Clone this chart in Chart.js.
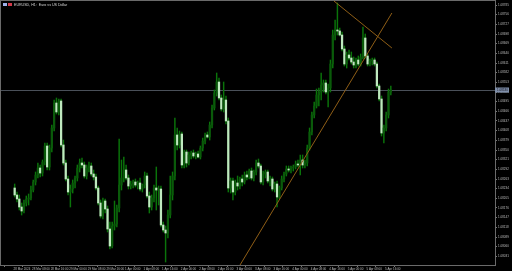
<!DOCTYPE html>
<html>
<head>
<meta charset="utf-8">
<script src="https://cdn.jsdelivr.net/npm/chart.js@4"></script>
<style>
html, body { margin: 0; padding: 0; background: #000; overflow: hidden; }
canvas { display: block; }
</style>
</head>
<body>
<canvas id="chart" width="512" height="271"></canvas>
<script>
// --- EURUSD H1 candles ---
const symbolTitle = 'EURUSD, H1:  Euro vs US Dollar';

const timeLabels = ['28 Mar 2024', '28 Mar 08:00', '28 Mar 16:00', '29 Mar 00:00', '29 Mar 08:00', '29 Mar 16:00',
    '1 Apr 00:00', '1 Apr 08:00', '1 Apr 16:00', '2 Apr 00:00', '2 Apr 08:00', '2 Apr 16:00',
    '3 Apr 00:00', '3 Apr 08:00', '3 Apr 16:00', '4 Apr 00:00', '4 Apr 08:00', '4 Apr 16:00',
    '5 Apr 00:00', '5 Apr 08:00', '5 Apr 16:00'];

const opens = [
    1.08236,1.08215,1.08203,1.08179,1.08167,1.08191,1.08203,1.08206,1.08230,1.08254,
    1.08275,1.08296,1.08281,1.08314,1.08362,1.08299,1.08356,1.08416,1.08491,1.08464,
    1.08497,1.08365,1.08311,1.08263,1.08224,1.08233,1.08251,1.08266,1.08296,1.08311,
    1.08305,1.08272,1.08296,1.08302,1.08278,1.08269,1.08236,1.08191,1.08152,1.08197,
    1.08173,1.08113,1.08062,1.08122,1.08128,1.08176,1.08245,1.08266,1.08290,1.08266,
    1.08242,1.08248,1.08254,1.08245,1.08251,1.08233,1.08245,1.08272,1.08212,1.08179,
    1.08206,1.08236,1.08230,1.08233,1.08125,1.08110,1.08101,1.08155,1.08215,1.08272,
    1.08395,1.08365,1.08398,1.08305,1.08344,1.08311,1.08335,1.08341,1.08332,1.08338,
    1.08329,1.08356,1.08377,1.08395,1.08389,1.08425,1.08476,1.08521,1.08554,1.08506,
    1.08473,1.08500,1.08437,1.08236,1.08257,1.08224,1.08251,1.08242,1.08263,1.08254,
    1.08275,1.08269,1.08287,1.08266,1.08284,1.08311,1.08302,1.08254,1.08278,1.08284,
    1.08257,1.08263,1.08233,1.08248,1.08209,1.08236,1.08263,1.08278,1.08293,1.08290,
    1.08296,1.08299,1.08308,1.08305,1.08320,1.08305,1.08311,1.08356,1.08404,1.08455,
    1.08482,1.08515,1.08524,1.08545,1.08551,1.08524,1.08536,1.08608,1.08695,1.08710,
    1.08707,1.08695,1.08653,1.08608,1.08635,1.08626,1.08614,1.08605,1.08620,1.08608,
    1.08629,1.08686,1.08632,1.08608,1.08617,1.08620,1.08608,1.08542,1.08503,1.08401,
    1.08416,1.08455,1.08524];

const highs = [
    1.08248,1.08224,1.08215,1.08191,1.08200,1.08212,1.08218,1.08242,1.08260,1.08284,
    1.08311,1.08305,1.08320,1.08371,1.08371,1.08365,1.08425,1.08500,1.08506,1.08503,
    1.08503,1.08380,1.08320,1.08272,1.08245,1.08260,1.08272,1.08305,1.08323,1.08326,
    1.08314,1.08305,1.08314,1.08311,1.08290,1.08278,1.08242,1.08200,1.08206,1.08203,
    1.08182,1.08134,1.08134,1.08197,1.08185,1.08383,1.08320,1.08329,1.08305,1.08275,
    1.08257,1.08260,1.08263,1.08257,1.08266,1.08248,1.08284,1.08281,1.08224,1.08215,
    1.08245,1.08299,1.08242,1.08242,1.08134,1.08122,1.08170,1.08272,1.08284,1.08446,
    1.08416,1.08407,1.08404,1.08350,1.08350,1.08344,1.08347,1.08350,1.08344,1.08347,
    1.08362,1.08386,1.08401,1.08404,1.08434,1.08485,1.08530,1.08581,1.08566,1.08515,
    1.08554,1.08512,1.08446,1.08266,1.08266,1.08260,1.08272,1.08269,1.08275,1.08284,
    1.08287,1.08293,1.08296,1.08290,1.08320,1.08323,1.08308,1.08287,1.08290,1.08290,
    1.08272,1.08269,1.08254,1.08257,1.08242,1.08272,1.08284,1.08302,1.08302,1.08302,
    1.08305,1.08317,1.08320,1.08335,1.08335,1.08320,1.08365,1.08416,1.08464,1.08494,
    1.08533,1.08536,1.08581,1.08560,1.08560,1.08548,1.08620,1.08710,1.08740,1.08791,
    1.08716,1.08704,1.08662,1.08644,1.08650,1.08644,1.08629,1.08626,1.08632,1.08638,
    1.08719,1.08698,1.08638,1.08623,1.08626,1.08626,1.08614,1.08548,1.08512,1.08425,
    1.08464,1.08533,1.08542];

const lows = [
    1.08209,1.08194,1.08170,1.08155,1.08161,1.08182,1.08185,1.08200,1.08224,1.08245,
    1.08266,1.08269,1.08272,1.08305,1.08290,1.08290,1.08344,1.08407,1.08458,1.08455,
    1.08359,1.08305,1.08257,1.08215,1.08179,1.08221,1.08236,1.08257,1.08284,1.08296,
    1.08266,1.08263,1.08284,1.08272,1.08260,1.08230,1.08185,1.08146,1.08143,1.08161,
    1.08104,1.08053,1.08056,1.08110,1.08119,1.08164,1.08230,1.08254,1.08260,1.08233,
    1.08233,1.08236,1.08239,1.08233,1.08227,1.08224,1.08236,1.08206,1.08161,1.08170,
    1.08194,1.08170,1.08185,1.08119,1.08104,1.08014,1.08086,1.08146,1.08200,1.08260,
    1.08350,1.08356,1.08296,1.08296,1.08299,1.08305,1.08323,1.08326,1.08323,1.08326,
    1.08323,1.08347,1.08368,1.08386,1.08380,1.08416,1.08470,1.08512,1.08500,1.08467,
    1.08464,1.08428,1.08224,1.08221,1.08200,1.08215,1.08230,1.08233,1.08242,1.08248,
    1.08260,1.08263,1.08260,1.08257,1.08275,1.08296,1.08248,1.08245,1.08266,1.08251,
    1.08242,1.08227,1.08224,1.08179,1.08203,1.08230,1.08254,1.08272,1.08284,1.08281,
    1.08287,1.08293,1.08299,1.08275,1.08296,1.08296,1.08302,1.08350,1.08395,1.08446,
    1.08476,1.08482,1.08500,1.08524,1.08518,1.08479,1.08524,1.08596,1.08680,1.08695,
    1.08692,1.08647,1.08602,1.08596,1.08620,1.08608,1.08596,1.08596,1.08602,1.08602,
    1.08623,1.08626,1.08602,1.08602,1.08605,1.08602,1.08536,1.08497,1.08392,1.08371,
    1.08407,1.08446,1.08515];

const closes = [
    1.08215,1.08203,1.08179,1.08167,1.08191,1.08203,1.08206,1.08230,1.08254,1.08275,
    1.08296,1.08281,1.08314,1.08362,1.08299,1.08356,1.08416,1.08491,1.08464,1.08497,
    1.08365,1.08311,1.08263,1.08224,1.08233,1.08251,1.08266,1.08296,1.08311,1.08305,
    1.08272,1.08296,1.08302,1.08278,1.08269,1.08236,1.08191,1.08152,1.08197,1.08173,
    1.08113,1.08062,1.08122,1.08128,1.08176,1.08245,1.08266,1.08290,1.08266,1.08242,
    1.08248,1.08254,1.08245,1.08251,1.08233,1.08245,1.08272,1.08212,1.08179,1.08206,
    1.08236,1.08230,1.08233,1.08125,1.08110,1.08101,1.08155,1.08215,1.08272,1.08395,
    1.08365,1.08398,1.08305,1.08344,1.08311,1.08335,1.08341,1.08332,1.08338,1.08329,
    1.08356,1.08377,1.08395,1.08389,1.08425,1.08476,1.08521,1.08554,1.08506,1.08473,
    1.08500,1.08437,1.08236,1.08257,1.08224,1.08251,1.08242,1.08263,1.08254,1.08275,
    1.08269,1.08287,1.08266,1.08284,1.08311,1.08302,1.08254,1.08278,1.08284,1.08257,
    1.08263,1.08233,1.08248,1.08209,1.08236,1.08263,1.08278,1.08293,1.08290,1.08296,
    1.08299,1.08308,1.08305,1.08320,1.08305,1.08311,1.08356,1.08404,1.08455,1.08482,
    1.08515,1.08524,1.08545,1.08551,1.08524,1.08536,1.08608,1.08695,1.08710,1.08707,
    1.08695,1.08653,1.08608,1.08635,1.08626,1.08614,1.08605,1.08620,1.08608,1.08629,
    1.08686,1.08632,1.08608,1.08617,1.08620,1.08608,1.08542,1.08503,1.08401,1.08416,
    1.08455,1.08524,1.08530];

const priceTicks = [1.08785, 1.08756, 1.08727, 1.08698, 1.08669, 1.08640, 1.08611, 1.08582, 1.08553,
    1.08524, 1.08495, 1.08466, 1.08437, 1.08408, 1.08379, 1.08350, 1.08321, 1.08292, 1.08263,
    1.08234, 1.08205, 1.08176, 1.08147, 1.08118, 1.08089, 1.08060, 1.08031];

// trendlines drawn on the chart (bar index, price)
const trendUp = [{ x: 96.8, y: 1.08002 }, { x: 162.46, y: 1.08761 }];
const trendDown = [{ x: 137.5, y: 1.08797 }, { x: 162.46, y: 1.08656 }];

const BARS_PER_LABEL = 8;
const FONT = '"Liberation Sans", Arial, sans-serif';

const mt4Plugin = {
    id: 'mt4',
    beforeDatasetsDraw(chart) {
        const { ctx, chartArea: a, scales: { y } } = chart;
        const yb = Math.round(y.getPixelForValue(closes[closes.length - 1])) + 0.5;
        ctx.save();
        ctx.strokeStyle = '#4a5059';
        ctx.lineWidth = 1;
        ctx.beginPath();
        ctx.moveTo(a.left, yb);
        ctx.lineTo(a.right, yb);
        ctx.stroke();
        ctx.restore();
    },
    afterDraw(chart) {
        const { ctx, chartArea: a, scales: { y } } = chart;
        ctx.save();
        // frame
        ctx.strokeStyle = '#6a6a6a';
        ctx.lineWidth = 1;
        ctx.strokeRect(a.left - 0.5, a.top - 0.5, a.right - a.left + 1, a.bottom - a.top + 1);

        // bid price box
        const last = closes[closes.length - 1];
        const yb = y.getPixelForValue(last);
        ctx.fillStyle = '#7f8fab';
        ctx.fillRect(a.right, yb - 2.5, 14, 5);
        ctx.fillStyle = '#101018';
        ctx.font = '3px ' + FONT;
        ctx.textBaseline = 'middle';
        ctx.fillText(last.toFixed(5), a.right + 2, yb);

        // title
        ctx.fillStyle = '#9db0e8';
        ctx.fillRect(3, 3, 4, 3);
        ctx.fillStyle = '#d23a4a';
        ctx.fillRect(8, 3, 4, 3);
        ctx.fillStyle = '#d8d8d8';
        ctx.font = '3.6px ' + FONT;
        ctx.fillText(symbolTitle, 14, 4.8);
        ctx.restore();
    }
};

function initChart() {
    const ctx = document.getElementById('chart').getContext('2d');
    const isBull = closes.map((c, i) => c >= opens[i]);

    new Chart(ctx, {
        data: {
            datasets: [
                { type: 'line', data: trendUp, borderColor: '#8f5e16', borderWidth: 1, pointRadius: 0, order: -1 },
                { type: 'line', data: trendDown, borderColor: '#8f5e16', borderWidth: 1, pointRadius: 0, order: -1 },
                {
                    type: 'bar',
                    data: opens.map((o, i) => ({ x: i, y: [o, closes[i]] })),
                    backgroundColor: isBull.map(b => b ? '#0a5a0a' : '#bfe9bf'),
                    barThickness: 1.6,
                    grouped: false,
                    order: 0
                },
                {
                    type: 'bar',
                    data: lows.map((l, i) => ({ x: i, y: [l, highs[i]] })),
                    backgroundColor: '#0a740a',
                    barThickness: 0.8,
                    grouped: false,
                    order: 1
                }
            ]
        },
        options: {
            responsive: false,
            animation: false,
            layout: { padding: { left: 1, top: 1, right: 0, bottom: 0 } },
            plugins: { legend: { display: false }, tooltip: { enabled: false } },
            scales: {
                x: {
                    type: 'linear',
                    min: -0.82,
                    max: 201.8,
                    grid: { drawOnChartArea: false, tickLength: 2, color: '#777' },
                    border: { display: true, color: '#777' },
                    afterBuildTicks: s => { s.ticks = timeLabels.map((_, k) => ({ value: k * BARS_PER_LABEL - 0.5 })); },
                    afterFit: s => { s.height = 6; s.paddingLeft = 0; s.paddingRight = 0; },
                    ticks: {
                        autoSkip: false, maxRotation: 0, align: 'start', padding: 0,
                        color: '#bdbdbd', font: { size: 3, family: FONT },
                        callback: (v, i) => timeLabels[i]
                    }
                },
                y: {
                    type: 'linear',
                    position: 'right',
                    min: 1.08005,
                    max: 1.08797,
                    grid: { drawOnChartArea: false, tickLength: 2, color: '#777' },
                    border: { display: true, color: '#777' },
                    afterBuildTicks: s => { s.ticks = priceTicks.map(v => ({ value: v })); },
                    afterFit: s => { s.width = 17; s.paddingTop = 0; s.paddingBottom = 0; },
                    ticks: {
                        padding: 1, color: '#bdbdbd', font: { size: 3, family: FONT },
                        callback: v => v.toFixed(5)
                    }
                }
            }
        },
        plugins: [mt4Plugin]
    });
}

initChart();
</script>
</body>
</html>
